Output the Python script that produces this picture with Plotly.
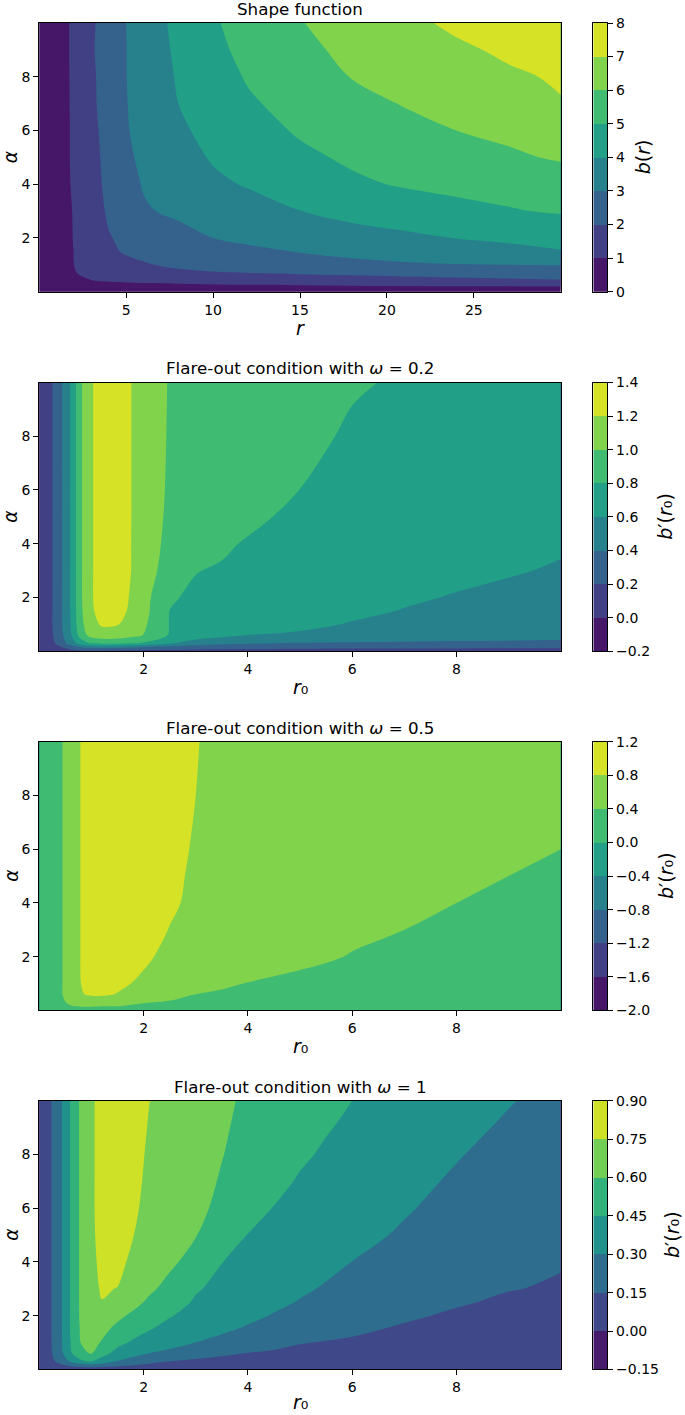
import plotly.graph_objects as go

# ---------------- data ----------------
# Panel 1: shape function b(r) over r (x) and alpha (y)
r_shape = [0, 1, 2, 3, 4, 5, 6, 8, 10, 12, 15, 18, 21, 24, 27, 30]
alpha_shape = [0, 0.2, 0.4, 0.7, 1.0, 1.5, 2, 3, 4, 5, 6, 7, 8, 9, 10]
b_shape = [
    [0.02, 0.03, 0.05, 0.06, 0.07, 0.08, 0.08, 0.09, 0.10, 0.10, 0.11, 0.11, 0.12, 0.12, 0.13, 0.13],
    [0.02, 0.30, 0.55, 0.65, 0.70, 0.74, 0.77, 0.80, 0.83, 0.86, 0.89, 0.92, 0.95, 0.98, 1.00, 1.03],
    [0.02, 0.42, 0.85, 0.97, 1.05, 1.10, 1.15, 1.22, 1.30, 1.35, 1.45, 1.55, 1.62, 1.70, 1.80, 1.88],
    [0.02, 0.45, 0.96, 1.20, 1.40, 1.55, 1.66, 1.84, 1.93, 2.00, 2.10, 2.20, 2.30, 2.38, 2.45, 2.52],
    [0.02, 0.48, 1.00, 1.33, 1.58, 1.77, 1.93, 2.16, 2.35, 2.50, 2.66, 2.78, 2.88, 2.96, 3.00, 3.02],
    [0.02, 0.50, 1.02, 1.45, 1.84, 2.09, 2.22, 2.45, 2.65, 2.80, 3.04, 3.23, 3.45, 3.65, 3.82, 3.97],
    [0.02, 0.52, 1.04, 1.55, 1.95, 2.18, 2.36, 2.70, 3.00, 3.20, 3.41, 3.62, 3.82, 4.02, 4.12, 4.20],
    [0.02, 0.52, 1.06, 1.60, 2.12, 2.47, 2.91, 3.17, 3.40, 3.63, 3.99, 4.30, 4.50, 4.72, 4.93, 5.10],
    [0.02, 0.55, 1.12, 1.70, 2.20, 2.70, 3.06, 3.41, 3.83, 4.07, 4.45, 4.85, 5.08, 5.25, 5.36, 5.48],
    [0.02, 0.56, 1.14, 1.71, 2.28, 2.85, 3.17, 3.66, 4.08, 4.38, 4.82, 5.14, 5.41, 5.62, 5.86, 6.10],
    [0.02, 0.56, 1.14, 1.76, 2.35, 2.94, 3.26, 3.85, 4.27, 4.64, 5.10, 5.40, 5.70, 6.00, 6.20, 6.40],
    [0.02, 0.57, 1.15, 1.83, 2.40, 2.97, 3.32, 4.00, 4.44, 4.89, 5.30, 5.69, 6.05, 6.35, 6.65, 6.95],
    [0.02, 0.57, 1.16, 1.85, 2.41, 2.99, 3.37, 4.09, 4.63, 5.07, 5.60, 6.03, 6.30, 6.60, 6.87, 7.10],
    [0.02, 0.57, 1.17, 1.90, 2.45, 2.99, 3.40, 4.18, 4.78, 5.24, 5.80, 6.20, 6.53, 6.85, 7.15, 7.45],
    [0.02, 0.57, 1.17, 1.86, 2.44, 3.00, 3.45, 4.26, 4.90, 5.35, 5.96, 6.38, 6.78, 7.17, 7.50, 7.80],
]
levels_shape = [0, 1, 2, 3, 4, 5, 6, 7, 8]

# Panel 2: flare-out, omega = 0.2
r0_w02 = [0, 0.2, 0.4, 0.6, 0.8, 1.0, 1.2, 1.5, 1.8, 2.1, 2.5, 3, 3.5, 4, 4.5, 5, 6, 7, 8, 9, 10]
alpha_w02 = [0, 0.15, 0.3, 0.6, 1, 1.5, 2, 3, 4, 5, 6, 8, 10]
db_w02 = [
    [0.02, 0.04, 0.08, 0.12, 0.15, 0.16, 0.16, 0.15, 0.14, 0.13, 0.12, 0.11, 0.105, 0.10, 0.10, 0.10, 0.09, 0.09, 0.09, 0.09, 0.09],
    [0.05, 0.08, 0.18, 0.30, 0.40, 0.45, 0.46, 0.45, 0.42, 0.38, 0.34, 0.31, 0.30, 0.29, 0.28, 0.27, 0.26, 0.25, 0.25, 0.24, 0.24],
    [0.08, 0.12, 0.28, 0.48, 0.70, 0.82, 0.86, 0.86, 0.82, 0.76, 0.62, 0.50, 0.45, 0.42, 0.40, 0.39, 0.38, 0.37, 0.36, 0.36, 0.35],
    [0.09, 0.14, 0.33, 0.57, 0.90, 1.08, 1.12, 1.11, 1.05, 0.968, 0.782, 0.72, 0.657, 0.598, 0.588, 0.577, 0.556, 0.534, 0.513, 0.491, 0.47],
    [0.10, 0.15, 0.35, 0.60, 0.95, 1.14, 1.22, 1.21, 1.102, 0.987, 0.793, 0.762, 0.732, 0.701, 0.670, 0.639, 0.589, 0.559, 0.529, 0.50, 0.47],
    [0.10, 0.15, 0.35, 0.61, 0.97, 1.17, 1.28, 1.29, 1.136, 1.009, 0.799, 0.775, 0.752, 0.729, 0.705, 0.682, 0.635, 0.593, 0.563, 0.533, 0.503],
    [0.10, 0.15, 0.35, 0.61, 0.98, 1.18, 1.30, 1.31, 1.156, 1.02, 0.815, 0.775, 0.76, 0.745, 0.725, 0.704, 0.664, 0.623, 0.589, 0.564, 0.54],
    [0.10, 0.15, 0.35, 0.61, 0.98, 1.18, 1.30, 1.32, 1.182, 1.045, 0.933, 0.805, 0.785, 0.771, 0.755, 0.74, 0.708, 0.676, 0.644, 0.613, 0.585],
    [0.10, 0.15, 0.35, 0.61, 0.98, 1.18, 1.30, 1.32, 1.183, 1.05, 0.964, 0.899, 0.825, 0.785, 0.774, 0.764, 0.735, 0.706, 0.677, 0.649, 0.62],
    [0.10, 0.15, 0.35, 0.61, 0.98, 1.18, 1.30, 1.32, 1.185, 1.055, 0.976, 0.930, 0.884, 0.839, 0.798, 0.784, 0.756, 0.728, 0.70, 0.673, 0.645],
    [0.10, 0.15, 0.35, 0.61, 0.98, 1.18, 1.30, 1.32, 1.185, 1.06, 0.982, 0.945, 0.908, 0.872, 0.835, 0.799, 0.768, 0.741, 0.714, 0.687, 0.66],
    [0.10, 0.15, 0.35, 0.61, 0.98, 1.18, 1.30, 1.32, 1.185, 1.068, 0.987, 0.958, 0.929, 0.899, 0.870, 0.841, 0.78, 0.755, 0.73, 0.705, 0.68],
    [0.10, 0.15, 0.35, 0.61, 0.98, 1.18, 1.30, 1.32, 1.185, 1.074, 0.990, 0.966, 0.942, 0.918, 0.893, 0.869, 0.815, 0.784, 0.756, 0.728, 0.70],
]
levels_w02 = [-0.2, 0.0, 0.2, 0.4, 0.6, 0.8, 1.0, 1.2, 1.4]

# Panel 3: flare-out, omega = 0.5
r0_w05 = [0, 0.2, 0.4, 0.6, 0.8, 1.0, 1.3, 1.6, 2.0, 2.5, 3.0, 3.5, 4, 5, 6, 7, 8, 9, 10]
alpha_w05 = [0, 0.15, 0.3, 0.6, 1, 1.5, 2, 3, 4, 5, 6, 8, 10]
db_w05 = [
    [0.02, 0.05, 0.10, 0.15, 0.18, 0.18, 0.17, 0.16, 0.15, 0.14, 0.13, 0.12, 0.11, 0.10, 0.10, 0.10, 0.10, 0.10, 0.10],
    [0.05, 0.12, 0.25, 0.38, 0.42, 0.42, 0.40, 0.38, 0.34, 0.30, 0.26, 0.24, 0.22, 0.20, 0.18, 0.17, 0.16, 0.16, 0.15],
    [0.08, 0.18, 0.33, 0.46, 0.58, 0.62, 0.62, 0.56, 0.42, 0.37, 0.33, 0.30, 0.28, 0.25, 0.22, 0.21, 0.20, 0.19, 0.18],
    [0.10, 0.22, 0.37, 0.50, 0.78, 0.84, 0.83, 0.76, 0.64, 0.52, 0.40, 0.35, 0.31, 0.27, 0.24, 0.22, 0.21, 0.20, 0.19],
    [0.10, 0.22, 0.37, 0.50, 0.80, 0.88, 0.90, 0.84, 0.74, 0.62, 0.53, 0.46, 0.39, 0.33, 0.29, 0.27, 0.25, 0.24, 0.23],
    [0.10, 0.22, 0.37, 0.50, 0.82, 0.93, 0.97, 0.92, 0.80, 0.70, 0.61, 0.54, 0.48, 0.40, 0.35, 0.32, 0.30, 0.28, 0.27],
    [0.10, 0.22, 0.37, 0.50, 0.82, 0.94, 0.99, 0.97, 0.84, 0.74, 0.66, 0.58, 0.53, 0.45, 0.39, 0.36, 0.34, 0.32, 0.30],
    [0.10, 0.22, 0.37, 0.50, 0.82, 0.95, 1.01, 1.00, 0.94, 0.79, 0.70, 0.63, 0.57, 0.50, 0.44, 0.40, 0.37, 0.35, 0.33],
    [0.10, 0.22, 0.37, 0.50, 0.82, 0.95, 1.02, 1.02, 0.97, 0.85, 0.73, 0.66, 0.61, 0.53, 0.47, 0.43, 0.40, 0.37, 0.35],
    [0.10, 0.22, 0.37, 0.50, 0.82, 0.95, 1.02, 1.03, 0.98, 0.87, 0.75, 0.68, 0.63, 0.56, 0.50, 0.46, 0.43, 0.40, 0.38],
    [0.10, 0.22, 0.37, 0.50, 0.82, 0.95, 1.02, 1.03, 0.99, 0.89, 0.77, 0.70, 0.65, 0.58, 0.52, 0.48, 0.45, 0.42, 0.40],
    [0.10, 0.22, 0.37, 0.50, 0.82, 0.95, 1.02, 1.03, 1.00, 0.92, 0.80, 0.73, 0.68, 0.61, 0.57, 0.53, 0.50, 0.48, 0.46],
    [0.10, 0.22, 0.37, 0.50, 0.82, 0.95, 1.02, 1.03, 1.00, 0.93, 0.81, 0.74, 0.70, 0.64, 0.60, 0.57, 0.54, 0.52, 0.50],
]
levels_w05 = [-2.0, -1.6, -1.2, -0.8, -0.4, 0.0, 0.4, 0.8, 1.2]

# Panel 4: flare-out, omega = 1
r0_w1 = [0, 0.2, 0.4, 0.6, 0.8, 1.0, 1.2, 1.5, 1.8, 2.1, 2.5, 3, 3.5, 4, 4.5, 5, 5.5, 6, 7, 8, 9, 10]
alpha_w1 = [0, 0.15, 0.3, 0.6, 1, 1.5, 2, 2.5, 3, 4, 5, 6, 7, 8, 9, 10]
db_w1 = [
    [0.01, 0.02, 0.03, 0.04, 0.05, 0.05, 0.05, 0.045, 0.04, 0.035, 0.03, 0.03, 0.025, 0.02, 0.02, 0.02, 0.02, 0.02, 0.02, 0.02, 0.02, 0.02],
    [0.03, 0.06, 0.12, 0.18, 0.22, 0.24, 0.22, 0.18, 0.15, 0.12, 0.10, 0.085, 0.07, 0.06, 0.055, 0.05, 0.047, 0.045, 0.04, 0.035, 0.035, 0.03],
    [0.04, 0.10, 0.20, 0.32, 0.42, 0.455, 0.39, 0.29, 0.235, 0.19, 0.15, 0.12, 0.10, 0.085, 0.078, 0.07, 0.065, 0.06, 0.055, 0.05, 0.045, 0.045],
    [0.05, 0.12, 0.25, 0.43, 0.57, 0.61, 0.50, 0.405, 0.352, 0.299, 0.265, 0.223, 0.18, 0.145, 0.13, 0.115, 0.105, 0.095, 0.082, 0.072, 0.065, 0.06],
    [0.05, 0.125, 0.265, 0.45, 0.605, 0.64, 0.59, 0.488, 0.43, 0.397, 0.353, 0.299, 0.265, 0.231, 0.194, 0.157, 0.142, 0.13, 0.108, 0.09, 0.078, 0.07],
    [0.05, 0.127, 0.267, 0.46, 0.62, 0.67, 0.64, 0.564, 0.511, 0.457, 0.416, 0.369, 0.322, 0.285, 0.258, 0.231, 0.203, 0.176, 0.132, 0.11, 0.093, 0.08],
    [0.05, 0.127, 0.267, 0.46, 0.63, 0.71, 0.715, 0.633, 0.571, 0.522, 0.457, 0.411, 0.37, 0.328, 0.292, 0.268, 0.244, 0.22, 0.172, 0.129, 0.108, 0.09],
    [0.05, 0.127, 0.267, 0.46, 0.632, 0.725, 0.748, 0.735, 0.647, 0.575, 0.505, 0.436, 0.399, 0.362, 0.325, 0.293, 0.272, 0.25, 0.207, 0.165, 0.127, 0.11],
    [0.05, 0.127, 0.267, 0.46, 0.632, 0.73, 0.757, 0.748, 0.688, 0.629, 0.554, 0.461, 0.42, 0.386, 0.352, 0.318, 0.289, 0.271, 0.233, 0.194, 0.156, 0.135],
    [0.05, 0.127, 0.267, 0.46, 0.632, 0.735, 0.765, 0.775, 0.73, 0.687, 0.629, 0.544, 0.452, 0.42, 0.39, 0.36, 0.33, 0.299, 0.26, 0.225, 0.19, 0.16],
    [0.05, 0.127, 0.267, 0.46, 0.632, 0.739, 0.77, 0.79, 0.752, 0.714, 0.665, 0.605, 0.524, 0.447, 0.419, 0.391, 0.363, 0.335, 0.285, 0.245, 0.205, 0.165],
    [0.05, 0.127, 0.267, 0.46, 0.632, 0.739, 0.776, 0.80, 0.763, 0.728, 0.685, 0.630, 0.571, 0.505, 0.446, 0.419, 0.392, 0.365, 0.311, 0.263, 0.217, 0.17],
    [0.05, 0.127, 0.267, 0.46, 0.632, 0.739, 0.776, 0.81, 0.77, 0.735, 0.693, 0.642, 0.59, 0.536, 0.482, 0.439, 0.413, 0.387, 0.335, 0.284, 0.237, 0.19],
    [0.05, 0.127, 0.267, 0.46, 0.632, 0.739, 0.776, 0.815, 0.776, 0.740, 0.701, 0.653, 0.604, 0.558, 0.513, 0.468, 0.435, 0.409, 0.358, 0.308, 0.259, 0.21],
    [0.05, 0.127, 0.267, 0.46, 0.632, 0.739, 0.776, 0.82, 0.783, 0.746, 0.708, 0.661, 0.613, 0.572, 0.531, 0.496, 0.458, 0.43, 0.381, 0.332, 0.284, 0.237],
    [0.05, 0.127, 0.267, 0.46, 0.632, 0.739, 0.776, 0.82, 0.785, 0.752, 0.713, 0.667, 0.621, 0.582, 0.549, 0.516, 0.483, 0.45, 0.402, 0.355, 0.307, 0.262],
]
levels_w1 = [-0.15, 0.0, 0.15, 0.30, 0.45, 0.60, 0.75, 0.90]

titles = ["Shape function",
          "Flare-out condition with <i>ω</i> = 0.2",
          "Flare-out condition with <i>ω</i> = 0.5",
          "Flare-out condition with <i>ω</i> = 1"]
xlabels = ["<i>r</i>", "<i>r</i>₀", "<i>r</i>₀", "<i>r</i>₀"]
cblabels = ["<i>b</i>(<i>r</i>)", "<i>b</i>′(<i>r</i>₀)", "<i>b</i>′(<i>r</i>₀)", "<i>b</i>′(<i>r</i>₀)"]
xticks_shape = [5, 10, 15, 20, 25]
xticks_r0 = [2, 4, 6, 8]
yticks = [2, 4, 6, 8]

# ---------------- styling helpers ----------------
W, H = 685, 1415
FONT = "DejaVu Sans"
VIR = ["#440154", "#482475", "#414487", "#355f8d", "#2a788e", "#21918c",
       "#22a884", "#44bf70", "#7ad151", "#bddf26", "#fde725"]


def viridis(f):
    p = f * 10
    i = min(int(p), 9)
    t = p - i
    a, b = VIR[i], VIR[i + 1]
    ca = [int(a[k:k + 2], 16) for k in (1, 3, 5)]
    cb = [int(b[k:k + 2], 16) for k in (1, 3, 5)]
    return "rgb(%d,%d,%d)" % tuple(round(ca[j] + (cb[j] - ca[j]) * t) for j in range(3))


def band_colors(nb):
    return [viridis((2 * k + 1) / (2 * nb)) for k in range(nb)]


def contour_scale(nb):
    # plotly samples band k of a filled contour at (k+1)/(nb+1)
    cols = band_colors(nb)
    nc = nb + 1
    sc = [[0.0, cols[0]]]
    for k, c in enumerate(cols):
        sc.append([(k + 1) / nc, c])
    sc.append([1.0, cols[-1]])
    return sc


def step_scale(nb):
    cols = band_colors(nb)
    sc = []
    for k, c in enumerate(cols):
        sc.append([k / nb, c])
        sc.append([(k + 1) / nb, c])
    return sc


X0, X1 = 39.3, 560.7
TOPS = [23.0, 382.5, 741.7, 1100.7]
PH = 268.7
CB_X0, CB_X1 = 593.3, 607.3
CB_LABEL_X = [643, 665, 666, 672]
XLABEL_OFF = [36, 36, 36, 33]


def px_x(x):
    return x / W


def px_y(y):
    return 1 - y / H


panels = [
    (r_shape, alpha_shape, b_shape, levels_shape, [0, 30], xticks_shape, "d"),
    (r0_w02, alpha_w02, db_w02, levels_w02, [0, 10], xticks_r0, ".1f"),
    (r0_w05, alpha_w05, db_w05, levels_w05, [0, 10], xticks_r0, ".1f"),
    (r0_w1, alpha_w1, db_w1, levels_w1, [0, 10], xticks_r0, ".2f"),
]

fig = go.Figure()
layout = dict(width=W, height=H, margin=dict(l=0, r=0, t=0, b=0),
              paper_bgcolor="white", plot_bgcolor="white", showlegend=False,
              font=dict(family=FONT, size=14, color="black"))
annotations = []

axis_common = dict(ticks="outside", ticklen=5, tickwidth=1, tickcolor="black",
                   showline=True, linecolor="black", linewidth=1, mirror=True,
                   showgrid=False, zeroline=False, automargin=False, fixedrange=True,
                   tickfont=dict(family=FONT, size=14, color="black"))


def axname(kind, n):
    return kind if n == 1 else "%s%d" % (kind, n)


for i, (xs, ys, zs, lev, xr, xt, tf) in enumerate(panels):
    n = i + 1
    m = i + 5  # colour bar axes
    top = TOPS[i]
    bot = top + PH
    ydom = [px_y(bot), px_y(top)]
    nb = len(lev) - 1
    size = round((lev[-1] - lev[0]) / nb, 6)

    fig.add_trace(go.Contour(
        x=xs, y=ys, z=zs, xaxis=axname("x", n), yaxis=axname("y", n),
        autocontour=False,
        contours=dict(start=lev[0], end=lev[-1], size=size, coloring="fill", showlines=False),
        line=dict(width=0, smoothing=1),
        colorscale=contour_scale(nb), showscale=False, hoverinfo="skip"))
    layout[axname("xaxis", n)] = dict(domain=[px_x(X0), px_x(X1)], range=xr,
                                     anchor=axname("y", n), tickvals=xt, **axis_common)
    layout[axname("yaxis", n)] = dict(domain=ydom, range=[0, 10], anchor=axname("x", n),
                                     tickvals=yticks, **axis_common)

    # colour bar drawn as a one-column heatmap of the band midpoints
    mids = [(lev[k] + lev[k + 1]) / 2 for k in range(nb)]
    fig.add_trace(go.Heatmap(
        x=[0.5], y=mids, z=[[v] for v in mids], xaxis=axname("x", m), yaxis=axname("y", m),
        zmin=lev[0], zmax=lev[-1], colorscale=step_scale(nb), showscale=False,
        hoverinfo="skip"))
    cb_x = {k: v for k, v in axis_common.items() if k != "ticks"}
    layout[axname("xaxis", m)] = dict(domain=[px_x(CB_X0), px_x(CB_X1)], range=[0, 1],
                                     anchor=axname("y", m), showticklabels=False,
                                     ticks="", **cb_x)
    cb_y = dict(axis_common)
    cb_y["tickformat"] = tf
    layout[axname("yaxis", m)] = dict(domain=ydom, range=[lev[0], lev[-1]], anchor=axname("x", m),
                                     side="right", tickvals=lev, **cb_y)

    # title
    annotations.append(dict(text=titles[i], xref="paper", yref="paper",
                            x=px_x((X0 + X1) / 2), y=px_y(top - 14.1),
                            xanchor="center", yanchor="middle", showarrow=False,
                            font=dict(family=FONT, size=16.7, color="black")))
    # x label
    annotations.append(dict(text=xlabels[i], xref="paper", yref="paper",
                            x=px_x((X0 + X1) / 2), y=px_y(bot + XLABEL_OFF[i]),
                            xanchor="center", yanchor="middle", showarrow=False,
                            font=dict(family=FONT, size=19, color="black")))
    # y label
    annotations.append(dict(text="<i>α</i>", xref="paper", yref="paper",
                            x=px_x(10.8), y=px_y(top + PH / 2), textangle=-90,
                            xanchor="center", yanchor="middle", showarrow=False,
                            font=dict(family=FONT, size=18.5, color="black")))
    # colour bar label
    annotations.append(dict(text=cblabels[i], xref="paper", yref="paper",
                            x=px_x(CB_LABEL_X[i]), y=px_y(top + PH / 2), textangle=-90,
                            xanchor="center", yanchor="middle", showarrow=False,
                            font=dict(family=FONT, size=19, color="black")))

layout["annotations"] = annotations
fig.update_layout(**layout)
fig.write_html("out.html", config={"displayModeBar": False, "staticPlot": True},
               post_script="document.body.style.margin='0';")
